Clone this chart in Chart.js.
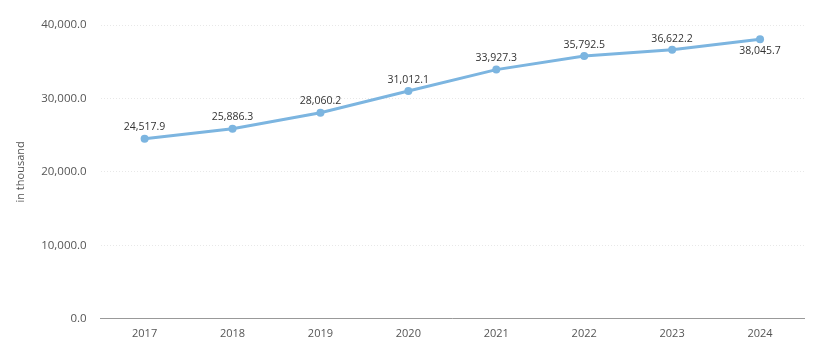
<!DOCTYPE html>
<html>
<head>
<meta charset="utf-8">
<script src="https://cdn.jsdelivr.net/npm/chart.js@4/dist/chart.umd.min.js"></script>
<style>
  html, body { margin: 0; padding: 0; background: #fff; }
  #wrap { width: 818px; height: 348px; position: relative; }
</style>
</head>
<body>
<div id="wrap"><canvas id="chart"></canvas></div>
<script>
// Data
const years = ['2017', '2018', '2019', '2020', '2021', '2022', '2023', '2024'];
const values = [24517.9, 25886.3, 28060.2, 31012.1, 33927.3, 35792.5, 36622.2, 38045.7];
// last point has its label under the marker
const labelBelow = [false, false, false, false, false, false, false, true];

const FONT = '"Open Sans", sans-serif';
const fmt = (v) => v.toLocaleString('en-US', { minimumFractionDigits: 1, maximumFractionDigits: 1 });

// Value labels over each point
const pointLabels = {
  id: 'pointLabels',
  afterDatasetsDraw(chart) {
    const ctx = chart.ctx;
    const meta = chart.getDatasetMeta(0);
    ctx.save();
    ctx.font = '10.5px ' + FONT;
    ctx.fillStyle = '#333';
    ctx.textAlign = 'center';
    meta.data.forEach((pt, i) => {
      if (labelBelow[i]) {
        ctx.textBaseline = 'top';
        ctx.fillText(fmt(values[i]), pt.x, pt.y + 6);
      } else {
        ctx.textBaseline = 'bottom';
        ctx.fillText(fmt(values[i]), pt.x, pt.y - 6);
      }
    });
    ctx.restore();
  }
};

new Chart(document.getElementById('chart'), {
  type: 'line',
  data: {
    labels: years,
    datasets: [{
      data: values,
      borderColor: '#7cb5e0',
      backgroundColor: '#7cb5e0',
      borderWidth: 3,
      pointRadius: 4,
      pointHoverRadius: 4,
      pointBorderWidth: 0,
      tension: 0
    }]
  },
  options: {
    responsive: true,
    maintainAspectRatio: false,
    animation: false,
    layout: { padding: { top: 25, right: 14, bottom: 0, left: 14 } },
    plugins: {
      legend: { display: false },
      tooltip: { enabled: false }
    },
    scales: {
      x: {
        offset: true,
        grid: { display: false, drawTicks: false },
        border: { display: true, color: '#999', width: 1 },
        ticks: { color: '#555', font: { family: FONT, size: 11 }, padding: 8 }
      },
      y: {
        min: 0,
        max: 40000,
        ticks: {
          stepSize: 10000,
          color: '#555',
          padding: 14,
          font: { family: FONT, size: 11.5 },
          callback: (v) => fmt(v)
        },
        grid: { color: '#e8e8e8', drawTicks: false, lineWidth: 1 },
        border: { display: false, dash: [1, 2] },
        title: {
          display: true,
          text: 'in thousand',
          color: '#555',
          font: { family: FONT, size: 11 },
          padding: { top: 0, bottom: 0 }
        }
      }
    }
  },
  plugins: [pointLabels]
});
</script>
</body>
</html>
